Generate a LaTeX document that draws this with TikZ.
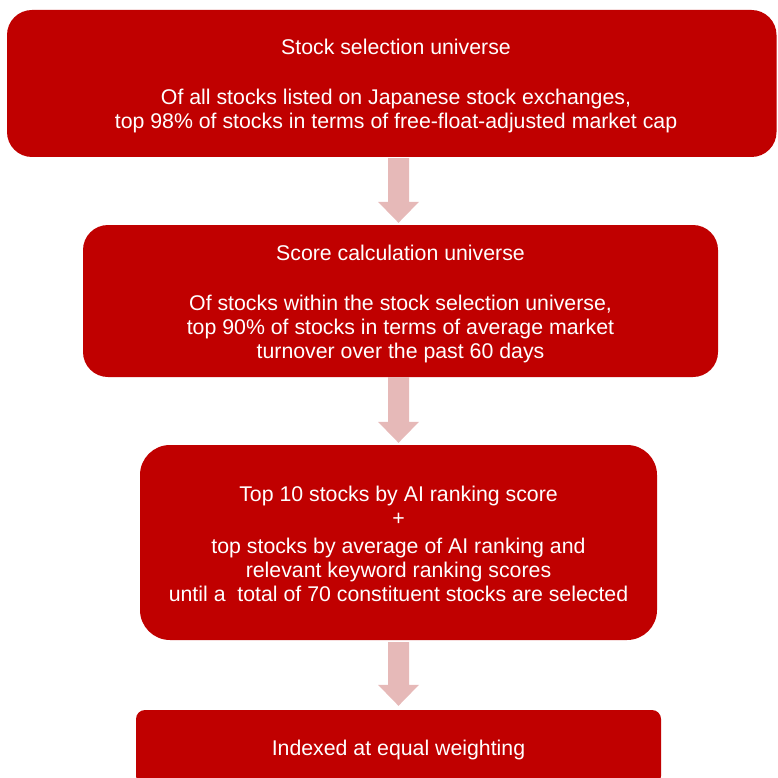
\documentclass[tikz,border=0pt]{standalone}
\usepackage{fontspec}
\setmainfont{Liberation Sans}
\usetikzlibrary{calc}
\definecolor{boxred}{HTML}{C00000}
\definecolor{arrowpink}{HTML}{E6B9B8}
\tikzset{
  redbox/.style={fill=boxred, draw=none, rounded corners=#1, inner sep=0pt},
  redbox/.default=25pt,
  boxtext/.style={text=white, align=center, font=\fontsize{21.3}{24}\selectfont, inner sep=0pt},
  blockarrow/.style={fill=arrowpink, draw=none}
}
\newcommand\downarrowblock[2]{%
  \fill[blockarrow] ($(#1)+(-10.5,0)$) -- ($(#1)+(10.5,0)$) -- ($(#2)+(10.5,-21)$)
    -- ($(#2)+(20.5,-21)$) -- (#2) -- ($(#2)+(-20.5,-21)$) -- ($(#2)+(-10.5,-21)$) -- cycle;}
\begin{document}
\begin{tikzpicture}[x=1pt,y=-1pt]
\useasboundingbox (0,0) rectangle (777,778);
\clip (0,0) rectangle (777,778);
% boxes
\node[redbox, minimum width=769.5pt, minimum height=147pt] (b1) at (391.75,83.5) {};
\node[redbox, minimum width=635pt, minimum height=152pt] (b2) at (400.5,301) {};
\node[redbox=30pt, minimum width=517pt, minimum height=195pt] (b3) at (398.5,542.5) {};
\node[redbox=9pt, minimum width=525pt, minimum height=75pt] (b4) at (398.5,747.5) {};
% texts
\node[boxtext] (t1) at (396,86) {Stock selection universe\\[26pt]Of all stocks listed on Japanese stock exchanges,\\top 98\% of stocks in terms of free-float-adjusted market cap};
\node[boxtext] (t2) at (400.5,304) {Score calculation universe\\[26pt]Of stocks within the stock selection universe,\\top 90\% of stocks in terms of average market\\turnover over the past 60 days};
\node[boxtext] (t3) at (398.5,543.5) {Top 10 stocks by AI ranking score\\+\\[4pt]top stocks by average of AI ranking and\\relevant keyword ranking scores\\until a\ \ total of 70 constituent stocks are selected};
\node[boxtext] (t4) at (398.5,749.5) {Indexed at equal weighting};
% arrows
\coordinate (a1s) at ($(b1.south -| b3.center)+(0,1)$);
\coordinate (a1e) at ($(b2.north -| b3.center)+(0,-2)$);
\coordinate (a2s) at (b2.south -| b3.center);
\coordinate (a2e) at ($(b3.north -| b3.center)+(0,-2)$);
\coordinate (a3s) at ($(b3.south -| b3.center)+(0,2)$);
\coordinate (a3e) at ($(b4.north -| b3.center)+(0,-4)$);
\downarrowblock{a1s}{a1e}
\downarrowblock{a2s}{a2e}
\downarrowblock{a3s}{a3e}
\end{tikzpicture}
\end{document}
